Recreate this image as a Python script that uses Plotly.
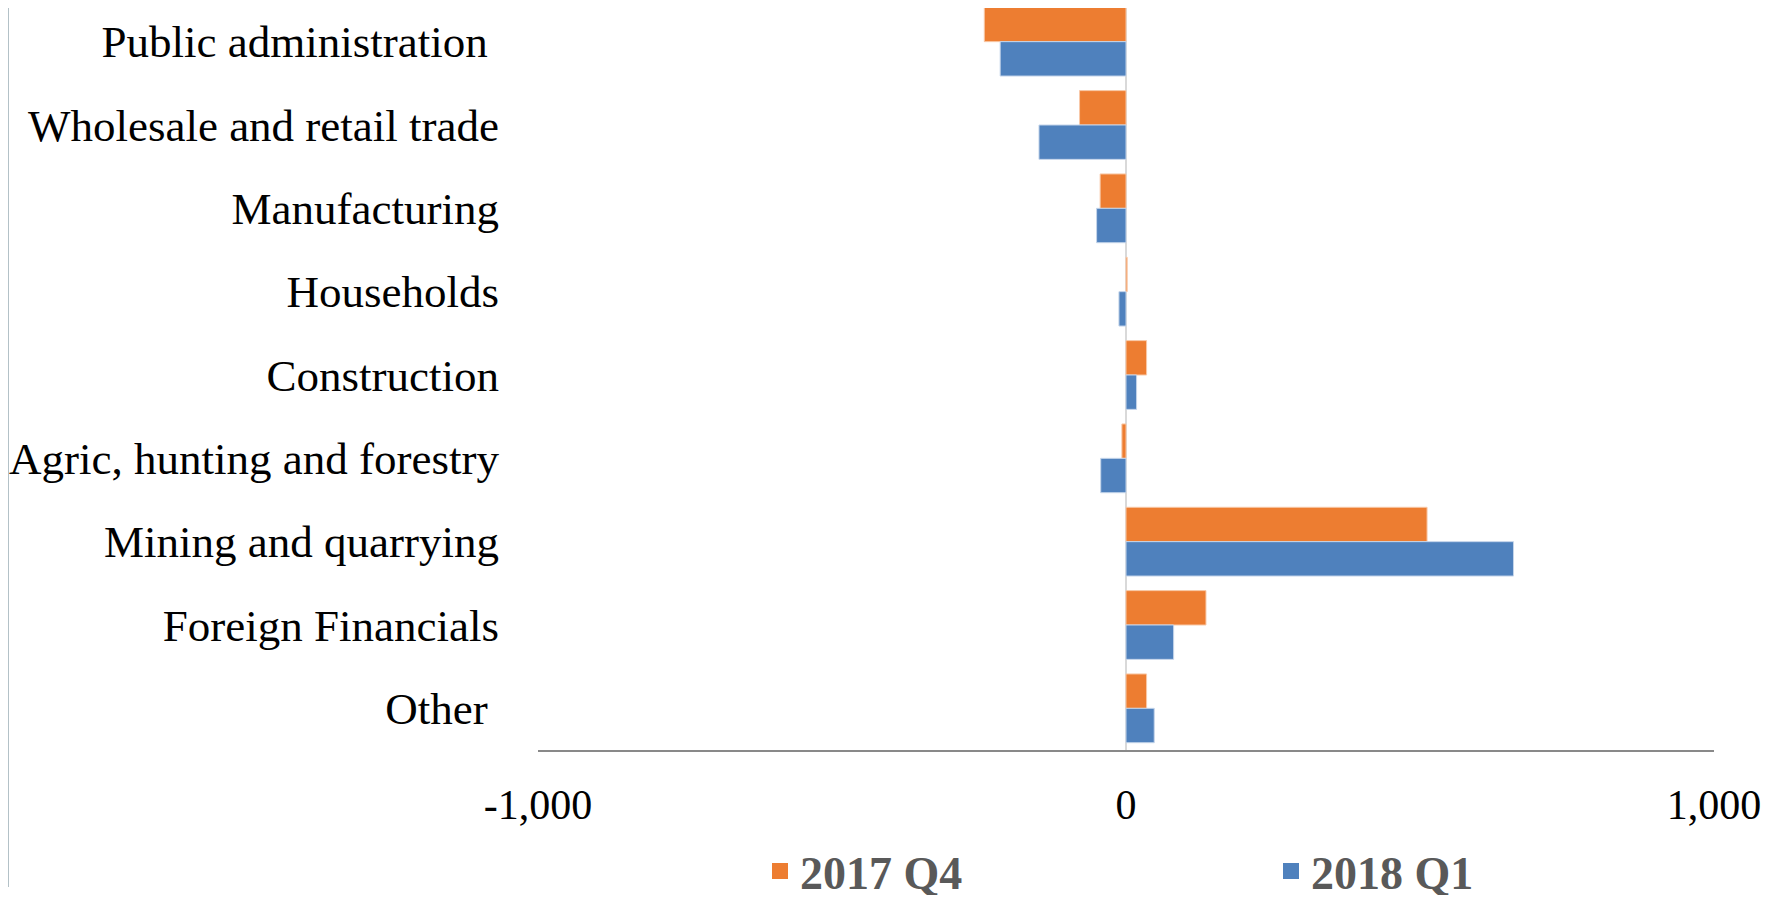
import plotly.graph_objects as go

sectors = ['Public administration\u00a0', 'Wholesale and retail trade', 'Manufacturing',
           'Households', 'Construction', 'Agric, hunting and forestry',
           'Mining and quarrying', 'Foreign Financials', 'Other\u00a0']
q4_2017 = [-241, -79, -44, 2, 35, -7, 512, 136, 35]
q1_2018 = [-214, -148, -50, -12, 18, -43, 659, 81, 48]

ORANGE, BLUE = '#ED7D31', '#4F81BD'

# page body has an 8px margin, so the figure is 16px smaller than the window
W, H = 1766, 887
L, R, T, B = 530, 60, 0, 145
plot_w = W - L - R
plot_h = H - T - B

fig = go.Figure()
fig.add_trace(go.Bar(name='2017 Q4', y=sectors, x=q4_2017, orientation='h', showlegend=False,
                     marker=dict(color=ORANGE, line=dict(color='#F8C9A8', width=1))))
fig.add_trace(go.Bar(name='2018 Q1', y=sectors, x=q1_2018, orientation='h', showlegend=False,
                     marker=dict(color=BLUE, line=dict(color='#C5D5EA', width=1))))
# legend entries with bigger square swatches
for name, col in [('2017 Q4', ORANGE), ('2018 Q1', BLUE)]:
    fig.add_trace(go.Scatter(name=name, x=[None], y=[None], mode='markers',
                             marker=dict(symbol='square', size=22, color=col)))

fig.update_layout(
    width=W, height=H,
    margin=dict(l=L, r=R, t=T, b=B, autoexpand=False),
    paper_bgcolor='white', plot_bgcolor='white',
    barmode='group', bargap=0.175, bargroupgap=0,
    font=dict(family='Liberation Serif', size=44, color='black'),
    legend=dict(orientation='h', x=(752 - L) / plot_w, xanchor='left',
                y=(plot_h - 863) / plot_h, yanchor='middle',
                entrywidth=466, entrywidthmode='pixels', itemsizing='trace',
                font=dict(family='Liberation Serif', size=46, color='#595959', weight='bold'),
                bgcolor='rgba(0,0,0,0)'),
)
fig.update_xaxes(range=[-1000, 1000], tickvals=[-1000, 0, 1000],
                 ticktext=['-1,000', '0', '1,000'], showgrid=False,
                 zeroline=True, zerolinecolor='#D9D9D9', zerolinewidth=2,
                 showline=True, linecolor='#898989', linewidth=2,
                 ticks='', ticklabelstandoff=17,
                 tickfont=dict(family='Liberation Serif', size=42))
fig.update_yaxes(range=[8.5, -0.5 + 8 / 83.3], showgrid=False, showline=False,
                 ticks='', ticklabelstandoff=38,
                 tickfont=dict(family='Liberation Serif', size=45))

# thin frame line at the far left of the page
fig.add_shape(type='line', xref='paper', yref='paper',
              x0=(0 - L) / plot_w, x1=(0 - L) / plot_w,
              y0=1, y1=(plot_h - 879) / plot_h,
              line=dict(color='#9AACB5', width=1.5))

fig.write_html("out.html")
